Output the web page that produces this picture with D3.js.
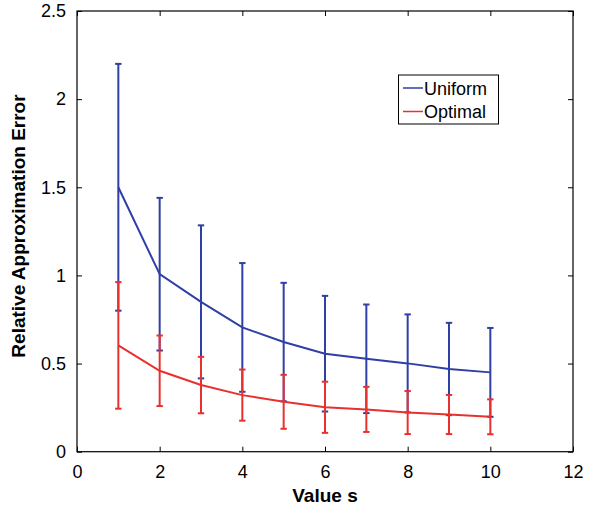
<!DOCTYPE html>
<html>
<head>
<meta charset="utf-8">
<script src="https://cdn.jsdelivr.net/npm/d3@7/dist/d3.min.js"></script>
<style>
  body { margin: 0; background: #fff; }
  svg { display: block; font-family: "Liberation Sans", Arial, Helvetica, sans-serif; }
</style>
</head>
<body>
<svg id="chart" width="589" height="510"></svg>
<script>
// Data
const sValues = [1, 2, 3, 4, 5, 6, 7, 8, 9, 10];
const uniformMean = [1.50, 1.007, 0.85, 0.705, 0.622, 0.556, 0.527, 0.501, 0.469, 0.450];
const uniformErr  = [0.70, 0.433, 0.434, 0.365, 0.336, 0.328, 0.308, 0.278, 0.262, 0.252];
const optimalMean = [0.603, 0.459, 0.378, 0.321, 0.283, 0.252, 0.240, 0.222, 0.211, 0.198];
const optimalErr  = [0.359, 0.200, 0.160, 0.145, 0.153, 0.145, 0.128, 0.122, 0.111, 0.099];
const xTicks = [0, 2, 4, 6, 8, 10, 12];
const yTicks = [0, 0.5, 1, 1.5, 2, 2.5];
const seriesNames = ["Uniform", "Optimal"];
const seriesColors = ["#2e3fa5", "#e8312f"];

(function () {
const svg = d3.select("#chart");
const pl = 77, pr = 573, pt = 11, pb = 451.7;

const x = d3.scaleLinear().domain([0, 12]).range([pl, pr]);
const y = d3.scaleLinear().domain([0, 2.5]).range([pb, pt]);

// Frame
svg.append("rect")
  .attr("x", pl).attr("y", pt)
  .attr("width", pr - pl).attr("height", pb - pt)
  .attr("fill", "none").attr("stroke", "#000").attr("stroke-width", 1.2);

// Axes (inward ticks)
const fmt = d => String(d);
const xAxisB = d3.axisBottom(x).tickValues(xTicks).tickSize(-5).tickPadding(14).tickFormat(fmt);
const xAxisT = d3.axisTop(x).tickValues(xTicks).tickSize(-5).tickFormat("");
const yAxisL = d3.axisLeft(y).tickValues(yTicks).tickSize(-5).tickPadding(11).tickFormat(fmt);
const yAxisR = d3.axisRight(y).tickValues(yTicks).tickSize(-5).tickFormat("");

function styleAxis(g) {
  g.select(".domain").remove();
  g.selectAll(".tick line").attr("stroke", "#000").attr("stroke-width", 1);
  g.selectAll(".tick text").attr("fill", "#000").style("font-size", "18px");
}

svg.append("g").attr("transform", `translate(0,${pb})`).call(xAxisB).call(styleAxis);
svg.append("g").attr("transform", `translate(0,${pt})`).call(xAxisT).call(styleAxis);
svg.append("g").attr("transform", `translate(${pl},0)`).call(yAxisL).call(styleAxis);
svg.append("g").attr("transform", `translate(${pr},0)`).call(yAxisR).call(styleAxis);

// Axis labels
svg.append("text")
  .attr("x", (pl + pr) / 2).attr("y", 502)
  .attr("text-anchor", "middle")
  .style("font-size", "19px").style("font-weight", "bold")
  .text("Value s");

svg.append("text")
  .attr("transform", "translate(25,226) rotate(-90)")
  .attr("text-anchor", "middle")
  .style("font-size", "19px").style("font-weight", "bold")
  .text("Relative Approximation Error");

// Series
const series = [
  { name: seriesNames[0], mean: uniformMean, err: uniformErr, color: seriesColors[0] },
  { name: seriesNames[1], mean: optimalMean, err: optimalErr, color: seriesColors[1] }
];

const line = d3.line().x(d => x(d.s)).y(d => y(d.m));
const cap = 3.2;

series.forEach(sr => {
  const pts = sValues.map((s, i) => ({ s, m: sr.mean[i], e: sr.err[i] }));
  const g = svg.append("g");
  pts.forEach(p => {
    const lo = p.m - p.e, hi = p.m + p.e;
    g.append("line").attr("x1", x(p.s)).attr("x2", x(p.s))
      .attr("y1", y(lo)).attr("y2", y(hi))
      .attr("stroke", sr.color).attr("stroke-width", 2);
    [lo, hi].forEach(v => {
      g.append("line").attr("x1", x(p.s) - cap).attr("x2", x(p.s) + cap)
        .attr("y1", y(v)).attr("y2", y(v))
        .attr("stroke", sr.color).attr("stroke-width", 2);
    });
  });
  g.append("path").datum(pts).attr("d", line)
    .attr("fill", "none").attr("stroke", sr.color).attr("stroke-width", 2);
});

// Legend
const lg = svg.append("g");
lg.append("rect").attr("x", 398.5).attr("y", 75).attr("width", 100).attr("height", 49)
  .attr("fill", "#fff").attr("stroke", "#000").attr("stroke-width", 1);
series.forEach((sr, i) => {
  const yy = 88 + i * 23.5;
  lg.append("line").attr("x1", 403).attr("x2", 423).attr("y1", yy).attr("y2", yy)
    .attr("stroke", sr.color).attr("stroke-width", 1.5);
  lg.append("text").attr("x", 424).attr("y", yy + 6.5)
    .style("font-size", "18px").attr("fill", "#000").text(sr.name);
});
})();
</script>
</body>
</html>
